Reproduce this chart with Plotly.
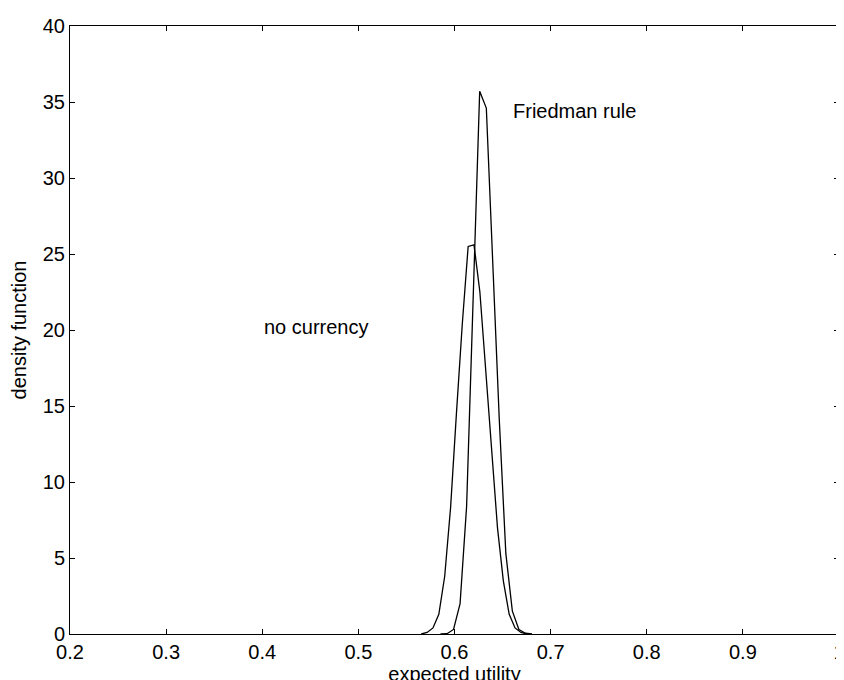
import plotly.graph_objects as go

# Friedman rule density
fr_x = [0.5854, 0.5922, 0.5990, 0.6058, 0.6126, 0.6194, 0.6262, 0.6331, 0.6398, 0.6466,
        0.6534, 0.6602, 0.6670, 0.6738, 0.6806]
fr_y = [0.0, 0.02, 0.3, 2.0, 8.4, 22.5, 35.7, 34.6, 23.8, 14.1,
        5.3, 1.5, 0.3, 0.05, 0.0]

# No currency density
nc_x = [0.5654, 0.5715, 0.5776, 0.5837, 0.5898, 0.5959, 0.6020, 0.6081, 0.6142, 0.6203,
        0.6264, 0.6325, 0.6386, 0.6447, 0.6508, 0.6569, 0.6630, 0.6691, 0.6752]
nc_y = [0.0, 0.1, 0.4, 1.3, 3.8, 8.3, 14.5, 20.4, 25.5, 25.6,
        22.5, 17.4, 12.0, 7.0, 3.5, 1.3, 0.4, 0.1, 0.0]

x_ticks = [0.2, 0.3, 0.4, 0.5, 0.6, 0.7, 0.8, 0.9, 1]
x_tick_text = ["0.2", "0.3", "0.4", "0.5", "0.6", "0.7", "0.8", "0.9", "1"]
y_ticks = [0, 5, 10, 15, 20, 25, 30, 35, 40]

font_family = "Liberation Sans, Arial, Helvetica, sans-serif"
fs = 20

fig = go.Figure()
fig.add_trace(go.Scatter(x=nc_x, y=nc_y, mode="lines", line=dict(color="black", width=1.3),
                         name="no currency", showlegend=False))
fig.add_trace(go.Scatter(x=fr_x, y=fr_y, mode="lines", line=dict(color="black", width=1.3),
                         name="Friedman rule", showlegend=False))

fig.add_annotation(x=0.659, y=34.4, text="Friedman rule", showarrow=False,
                   xanchor="left", yanchor="middle", font=dict(size=fs, color="black"))
fig.add_annotation(x=0.40, y=20.2, text="no currency", showarrow=False,
                   xanchor="left", yanchor="middle", font=dict(size=fs, color="black"))

axis_common = dict(showline=True, linecolor="black", linewidth=1, mirror="ticks",
                   ticks="inside", ticklen=5, tickcolor="black", showgrid=False,
                   zeroline=False, ticklabeloverflow="allow",
                   tickfont=dict(size=fs, color="black"))

fig.update_xaxes(range=[0.2, 1.0], tickvals=x_ticks, ticktext=x_tick_text, automargin=True,
                 title=dict(text="expected utility", font=dict(size=fs, color="black"), standoff=1),
                 **axis_common)
fig.update_yaxes(range=[0, 40], tickvals=y_ticks, automargin=False,
                 title=dict(text="density function", font=dict(size=fs, color="black")),
                 **axis_common)

fig.update_layout(width=844, height=680, margin=dict(l=62, r=7, t=18, b=54),
                  plot_bgcolor="white", paper_bgcolor="white",
                  font=dict(family=font_family, color="black"))

fig.write_html("out.html")
